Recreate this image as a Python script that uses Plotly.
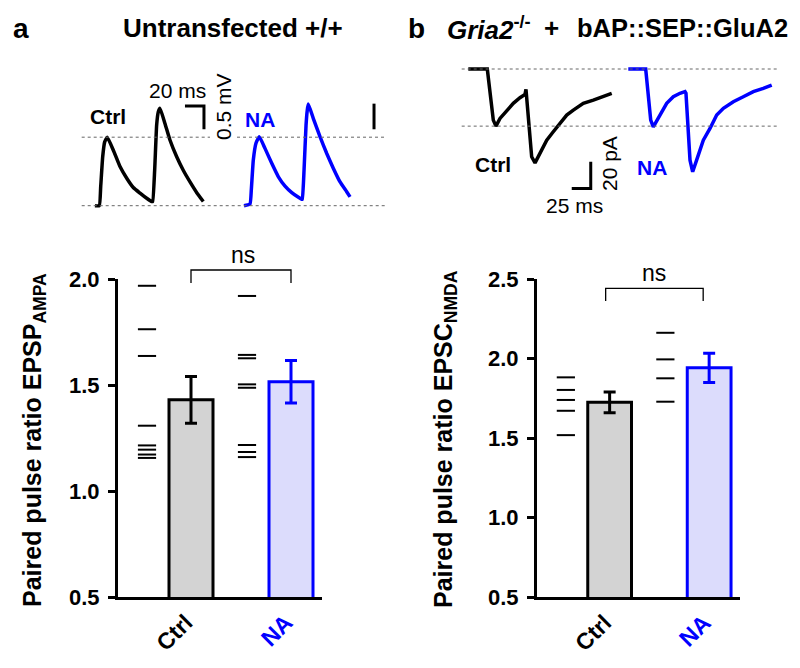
import plotly.graph_objects as go

W, H = 800, 668
FONT = "Liberation Sans, Arial, sans-serif"
BLUE = "#0000ff"

# ---------------- data ----------------
groups = ["Ctrl", "NA"]

# panel a: paired pulse ratio EPSP AMPA
a_means = [1.43, 1.515]
a_sems = [0.11, 0.10]
a_ctrl_points = [1.968, 1.763, 1.637, 1.308, 1.215, 1.195, 1.172, 1.156]
a_na_points = [1.92, 1.642, 1.626, 1.503, 1.487, 1.217, 1.184, 1.160]

# panel b: paired pulse ratio EPSC NMDA
b_means = [1.725, 1.942]
b_sems = [0.065, 0.092]
b_ctrl_points = [1.882, 1.803, 1.740, 1.672, 1.519]
b_na_points = [2.162, 1.995, 1.876, 1.729]

# example traces panel a (time ms, EPSP mV)
a_ctrl_t = [0, 4.5, 6.0, 8.1, 10.2, 12.9, 19.3, 26.3, 33.4, 40.3, 47.4, 54.4, 59.7, 60.7,
            62.8, 64.9, 66.6, 68.4, 73.7, 78.9, 86.0, 92.9, 100.0, 107.1, 114.0]
a_ctrl_v = [0, 0, 0.41, 1.05, 1.37, 1.47, 1.19, 0.84, 0.59, 0.39, 0.27, 0.16, 0.09, 0.09,
            0.76, 1.73, 2.01, 2.09, 1.76, 1.41, 1.05, 0.76, 0.51, 0.28, 0.09]
a_na_t = [0, 6.3, 7.7, 9.8, 12.6, 16.1, 22.1, 29.2, 36.2, 43.2, 50.3, 57.3, 60.7, 61.4,
          63.2, 65.3, 66.6, 67.7, 73.0, 80.0, 87.1, 94.1, 101.1, 108.1, 111.6]
a_na_v = [0, 0.04, 0.34, 0.98, 1.34, 1.48, 1.23, 0.91, 0.62, 0.42, 0.28, 0.18, 0.14, 0.14,
          0.76, 1.73, 2.05, 2.18, 1.87, 1.48, 1.12, 0.80, 0.51, 0.30, 0.19]

# example traces panel b (time ms, EPSC pA)
b_ctrl_t = [0, 25.0, 32.9, 36.4, 41.7, 50.5, 59.2, 68.0, 74.6, 75.9, 83.4, 87.8, 94.3,
            103.2, 111.8, 120.7, 129.5, 138.2, 151.3, 164.5, 177.6, 188.7]
b_ctrl_i = [0, 0, -38.3, -42.8, -37.0, -30.8, -25.7, -21.5, -19.0, -15.2, -65.8, -70.3,
            -63.2, -53.3, -47.0, -40.7, -34.5, -30.8, -25.7, -23.3, -20.8, -18.2]
b_na_t = [0, 22.9, 29.5, 32.9, 41.7, 50.5, 59.2, 68.0, 74.6, 75.9, 81.2, 84.7, 89.9,
          98.7, 107.5, 116.3, 125.1, 138.2, 151.3, 164.5, 177.6, 188.7]
b_na_i = [0, 0, -38.3, -43.3, -34.5, -25.7, -20.8, -18.2, -17.0, -18.2, -68.3, -77.0,
          -68.3, -53.3, -44.5, -34.5, -29.5, -24.5, -20.8, -17.0, -14.5, -12.0]

# ---------------- layout helpers ----------------
def fx(p):
    return p / W

def fy(p):
    return 1 - p / H

fig = go.Figure()

BAR_W = 0.44
DOT_OFF = -0.44

def add_bar_panel(xa, ya, means, sems, pts_list):
    fills = ["#d3d3d3", "#dcdcfc"]
    edges = ["black", BLUE]
    for i in range(2):
        fig.add_trace(go.Bar(
            x=[i], y=[means[i]], width=BAR_W, xaxis=xa, yaxis=ya,
            marker=dict(color=fills[i], line=dict(color=edges[i], width=3)),
            error_y=dict(type="data", array=[sems[i]], color=edges[i], thickness=3, width=6),
            showlegend=False, hoverinfo="skip"))
        pts = pts_list[i]
        fig.add_trace(go.Scatter(
            x=[i + DOT_OFF] * len(pts), y=pts, mode="markers", xaxis=xa, yaxis=ya,
            marker=dict(symbol="line-ew", size=13, color="black",
                        line=dict(width=2, color="black")),
            showlegend=False, hoverinfo="skip", cliponaxis=False))

add_bar_panel("x", "y", a_means, a_sems, [a_ctrl_points, a_na_points])
add_bar_panel("x2", "y2", b_means, b_sems, [b_ctrl_points, b_na_points])

# traces panel a
A_PX_PER_MS = 19 / 20
A_PX_PER_MV = 23.3 / 0.5
A_LEFT, A_RIGHT, A_TOP, A_BOT, A_BASE = 80, 390, 90, 215, 205.7
a_off = [(95 - A_LEFT) / A_PX_PER_MS, (244 - A_LEFT) / A_PX_PER_MS]
for t, v, off, col in [(a_ctrl_t, a_ctrl_v, a_off[0], "black"), (a_na_t, a_na_v, a_off[1], BLUE)]:
    fig.add_trace(go.Scatter(x=[ti + off for ti in t], y=v, mode="lines", xaxis="x3", yaxis="y3",
                             line=dict(color=col, width=3.5, shape="spline", smoothing=0.4),
                             showlegend=False, hoverinfo="skip"))

# traces panel b
B_PX_PER_MS = 19 / 25
B_PX_PER_PA = 26.7 / 20
B_LEFT, B_RIGHT, B_TOP, B_BOT, B_BASE = 455, 790, 55, 200, 69
b_off = [(468.3 - B_LEFT) / B_PX_PER_MS, (628.3 - B_LEFT) / B_PX_PER_MS]
for t, v, off, col in [(b_ctrl_t, b_ctrl_i, b_off[0], "black"), (b_na_t, b_na_i, b_off[1], BLUE)]:
    fig.add_trace(go.Scatter(x=[ti + off for ti in t], y=v, mode="lines", xaxis="x4", yaxis="y4",
                             line=dict(color=col, width=3.5),
                             showlegend=False, hoverinfo="skip"))

tick_font = dict(family=FONT, size=22, color="black", weight="bold")

def yax(domain, rng, tv, anchor):
    return dict(domain=domain, range=rng, anchor=anchor, tickvals=tv,
                ticktext=[f"{v:.1f}" for v in tv],
                showline=True, linewidth=3, linecolor="black", ticks="outside", ticklen=7,
                tickwidth=3, tickcolor="black", showgrid=False, zeroline=False,
                tickfont=tick_font, ticklabelstandoff=4, fixedrange=True, automargin=False)

def xax(domain, anchor):
    return dict(domain=domain, range=[-0.73, 1.31], anchor=anchor, tickvals=[0, 1],
                ticktext=["Ctrl", f"<span style='color:{BLUE}'>NA</span>"],
                tickangle=-45, showline=True, linewidth=3, linecolor="black", ticks="",
                showgrid=False, zeroline=False, automargin=False, ticklabelshift=-5,
                fixedrange=True,
                tickfont=dict(family=FONT, size=23, color="black", weight="bold"))

hidden = dict(visible=False, showgrid=False, zeroline=False, fixedrange=True, automargin=False)

fig.update_layout(
    template="none",
    width=W, height=H, margin=dict(l=0, r=0, t=0, b=0, pad=0, autoexpand=False),
    paper_bgcolor="white", plot_bgcolor="rgba(0,0,0,0)",
    font=dict(family=FONT, color="black"),
    bargap=0, showlegend=False,
    xaxis=xax([fx(118), fx(322)], "y"),
    yaxis=yax([fy(597), fy(279)], [0.5, 2.0], [0.5, 1.0, 1.5, 2.0], "x"),
    xaxis2=xax([fx(537), fx(740)], "y2"),
    yaxis2=yax([fy(597.3), fy(279)], [0.5, 2.5], [0.5, 1.0, 1.5, 2.0, 2.5], "x2"),
    xaxis3=dict(hidden, domain=[fx(A_LEFT), fx(A_RIGHT)], anchor="y3",
                range=[0, (A_RIGHT - A_LEFT) / A_PX_PER_MS]),
    yaxis3=dict(hidden, domain=[fy(A_BOT), fy(A_TOP)], anchor="x3",
                range=[-(A_BOT - A_BASE) / A_PX_PER_MV, (A_BASE - A_TOP) / A_PX_PER_MV]),
    xaxis4=dict(hidden, domain=[fx(B_LEFT), fx(B_RIGHT)], anchor="y4",
                range=[0, (B_RIGHT - B_LEFT) / B_PX_PER_MS]),
    yaxis4=dict(hidden, domain=[fy(B_BOT), fy(B_TOP)], anchor="x4",
                range=[-(B_BOT - B_BASE) / B_PX_PER_PA, (B_BASE - B_TOP) / B_PX_PER_PA]),
)

shapes = []
# significance brackets
def bracket(xref, x0, x1, ytop, ybot):
    shapes.append(dict(type="path", xref=xref, yref="paper",
                       path=f"M {x0} {fy(ybot)} L {x0} {fy(ytop)} L {x1} {fy(ytop)} L {x1} {fy(ybot)}",
                       line=dict(color="black", width=1.3)))

bracket("x", 0.0, 1.0, 270, 283)
bracket("x2", -0.04, 0.94, 288.3, 301)

# dashed reference lines, panel a (baseline and first Ctrl peak)
a_peak = max(a_ctrl_v[:12])
dash = dict(color="#666666", width=1, dash="dot")
for (x0, x1) in [(81.7, 210), (237, 385)]:
    shapes.append(dict(type="line", xref="paper", yref="y3", x0=fx(x0), x1=fx(x1),
                       y0=a_peak, y1=a_peak, line=dash))
shapes.append(dict(type="line", xref="paper", yref="y3", x0=fx(81.7), x1=fx(385),
                   y0=0, y1=0, line=dash))
# dashed reference lines, panel b (baseline and first Ctrl trough)
b_trough = min(b_ctrl_i[:8])
for yv in [0, b_trough]:
    shapes.append(dict(type="line", xref="paper", yref="y4", x0=fx(461.7), x1=fx(776.7),
                       y0=yv, y1=yv, line=dash))

# scale bars panel a: 20 ms, 0.5 mV
sb = dict(color="black", width=3)
sa_t, sa_v = 110.5, 2.14
shapes.append(dict(type="path", xref="x3", yref="y3",
                   path=f"M {sa_t} {sa_v} L {sa_t + 20} {sa_v} L {sa_t + 20} {sa_v - 0.5}", line=sb))
shapes.append(dict(type="line", xref="x3", yref="y3", x0=309.5, x1=309.5,
                   y0=sa_v + 0.05, y1=sa_v - 0.5, line=sb))
# scale bars panel b: 25 ms, 20 pA
sb_t, sb_i = 178.6, -89.5
shapes.append(dict(type="path", xref="x4", yref="y4",
                   path=f"M {sb_t - 25} {sb_i} L {sb_t} {sb_i} L {sb_t} {sb_i + 20}", line=sb))

fig.update_layout(shapes=shapes)

ann = []
def text(x, y, s, size, bold=False, color="black", angle=0, xanchor="center"):
    ann.append(dict(x=fx(x), y=fy(y), xref="paper", yref="paper", text=s, showarrow=False,
                    xanchor=xanchor, yanchor="middle", textangle=angle,
                    font=dict(family=FONT, size=size, color=color,
                              weight="bold" if bold else "normal")))

text(20.5, 28, "a", 28, bold=True)
text(233, 28, "Untransfected +/+", 26, bold=True)
text(416.7, 28, "b", 28, bold=True)
text(445, 28, "<i>Gria2</i><sup>-/-</sup>", 26, bold=True, xanchor="left")
text(551.7, 28, "+", 26, bold=True)
text(575, 28, "bAP::SEP::GluA2", 25.5, bold=True, xanchor="left")

# trace labels
text(107.5, 116.5, "Ctrl", 21, bold=True)
text(260, 119.5, "NA", 21, bold=True, color=BLUE)
text(177.3, 90, "20 ms", 21)
text(223.3, 106.7, "0.5 mV", 21, angle=-90)
text(492.5, 164.5, "Ctrl", 21, bold=True)
text(652, 167.5, "NA", 21, bold=True, color=BLUE)
text(609, 164, "20 pA", 21, angle=-90)
text(574.5, 205, "25 ms", 21)

# ns
text(243, 255, "ns", 23)
text(654, 273, "ns", 23)

# y titles
text(34, 440, "Paired pulse ratio EPSP<sub>AMPA</sub>", 25, bold=True, angle=-90)
text(445, 439, "Paired pulse ratio EPSC<sub>NMDA</sub>", 25, bold=True, angle=-90)

fig.update_layout(annotations=ann)
fig.write_html("out.html", post_script="document.body.style.margin='0px';",
               config={"displayModeBar": False, "staticPlot": True})
